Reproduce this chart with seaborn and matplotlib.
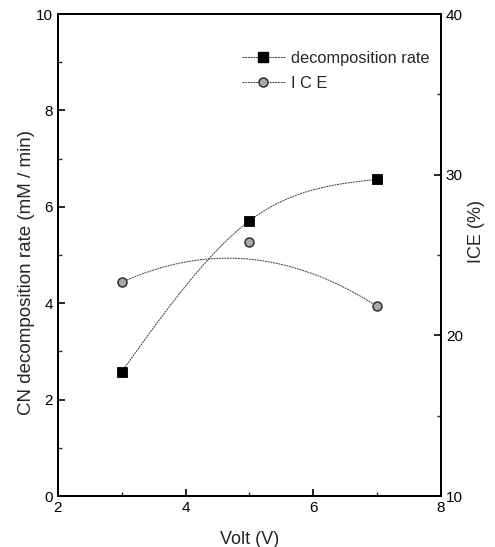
import numpy as np
import pandas as pd
import matplotlib
matplotlib.use("Agg")
import matplotlib.pyplot as plt
from matplotlib.lines import Line2D
from matplotlib.ticker import MultipleLocator
import seaborn as sns

# Measured data
volt = [3, 5, 7]
decomp_rate = [2.58, 5.71, 6.57]          # CN decomposition rate (mM / min)
ice = [23.3, 25.8, 21.8]                  # ICE (%)
ice_trend = [23.3, 24.74, 21.8]           # smoothed ICE trend line (%)


def natural_spline(x, y, xs):
    """Natural cubic spline through (x, y), evaluated at xs."""
    x = np.asarray(x, float)
    y = np.asarray(y, float)
    n = len(x)
    h = np.diff(x)
    A = np.zeros((n, n))
    b = np.zeros(n)
    A[0, 0] = A[-1, -1] = 1.0
    for i in range(1, n - 1):
        A[i, i - 1] = h[i - 1]
        A[i, i] = 2 * (h[i - 1] + h[i])
        A[i, i + 1] = h[i]
        b[i] = 6 * ((y[i + 1] - y[i]) / h[i] - (y[i] - y[i - 1]) / h[i - 1])
    M = np.linalg.solve(A, b)
    idx = np.clip(np.searchsorted(x, xs) - 1, 0, n - 2)
    x0, x1 = x[idx], x[idx + 1]
    hh = x1 - x0
    t0, t1 = x1 - xs, xs - x0
    return (M[idx] * t0 ** 3 / (6 * hh) + M[idx + 1] * t1 ** 3 / (6 * hh)
            + (y[idx] / hh - M[idx] * hh / 6) * t0
            + (y[idx + 1] / hh - M[idx + 1] * hh / 6) * t1)


sns.set_theme(style="ticks")
plt.rcParams["font.family"] = ["Liberation Sans", "DejaVu Sans"]

fig = plt.figure(figsize=(4.95, 5.47), dpi=100)
ax = fig.add_axes([0.117, 0.0932, 0.774, 0.8812])
ax2 = ax.twinx()

df = pd.DataFrame({"volt": volt, "rate": decomp_rate, "ice": ice})

xs = np.linspace(min(volt), max(volt), 200)
rate_curve = natural_spline(volt, decomp_rate, xs)
ice_curve = np.polyval(np.polyfit(volt, ice_trend, 2), xs)

line_kw = dict(color="#3a3a3a", linewidth=0.7, linestyle=(0, (2, 0.8)))
sns.lineplot(x=xs, y=rate_curve, ax=ax, **line_kw)
sns.lineplot(x=xs, y=ice_curve, ax=ax2, **line_kw)

sns.scatterplot(data=df, x="volt", y="rate", ax=ax, marker="s", s=52,
                color="black", edgecolor="black", linewidth=0.6, zorder=5)
sns.scatterplot(data=df, x="volt", y="ice", ax=ax2, marker="o", s=42,
                color="#a8a8a8", edgecolor="#303030", linewidth=1.1, zorder=5)

ax.set_xlim(2, 8)
ax.set_ylim(0, 10)
ax2.set_ylim(10, 40)
ax.xaxis.set_major_locator(MultipleLocator(2))
ax.xaxis.set_minor_locator(MultipleLocator(1))
ax.yaxis.set_major_locator(MultipleLocator(2))
ax.yaxis.set_minor_locator(MultipleLocator(1))
ax2.yaxis.set_major_locator(MultipleLocator(10))
ax2.yaxis.set_minor_locator(MultipleLocator(5))

for a in (ax, ax2):
    for sp in a.spines.values():
        sp.set_visible(True)
        sp.set_linewidth(1.4)
        sp.set_color("black")
    a.tick_params(which="major", direction="in", length=5, width=1.2, labelsize=11, colors="black")
    a.tick_params(which="minor", direction="in", length=3, width=1.0)
ax.tick_params(axis="y", which="both", right=False)
ax.tick_params(axis="x", which="both", top=False)
ax2.tick_params(axis="y", which="both", left=False, right=True)

ax.set_xlabel("Volt (V)", fontsize=13)
ax.set_ylabel("CN decomposition rate (mM / min)", fontsize=13.5)
ax2.set_ylabel("ICE (%)", fontsize=13)
ax.xaxis.set_label_coords(0.5, -0.073)
ax.yaxis.set_label_coords(-0.06, 0.463)
ax2.yaxis.set_label_coords(1.07, 0.548)

handles = [
    Line2D([], [], color="#3a3a3a", linewidth=0.7, linestyle=(0, (2, 0.8)),
           marker="s", markersize=7, markerfacecolor="black", markeredgecolor="black"),
    Line2D([], [], color="#3a3a3a", linewidth=0.7, linestyle=(0, (2, 0.8)),
           marker="o", markersize=6.5, markerfacecolor="#a8a8a8", markeredgecolor="#303030",
           markeredgewidth=1.1),
]
ax2.legend(handles, ["decomposition rate", "I C E"], loc="upper right",
           bbox_to_anchor=(1.0, 0.947), frameon=False, fontsize=11.8,
           handlelength=2.6, handletextpad=0.4, labelspacing=0.62, borderaxespad=0.3)

fig.savefig("out.png", dpi=100)
